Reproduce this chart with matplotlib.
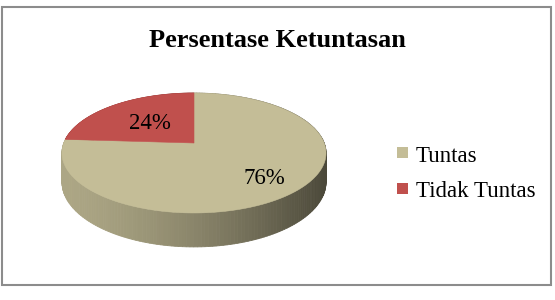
import numpy as np
import matplotlib
matplotlib.use("Agg")
import matplotlib.pyplot as plt
from matplotlib.patches import Polygon, Rectangle

# data
categories = ["Tuntas", "Tidak Tuntas"]
values = [76, 24]
labels = ["76%", "24%"]
colors = ["#C4BD97", "#C0504D"]
title = "Persentase Ketuntasan"

plt.rcParams["font.family"] = ["Liberation Serif", "DejaVu Serif"]

W, H = 555, 300
fig = plt.figure(figsize=(W / 100, H / 100), dpi=100)
ax = fig.add_axes([0, 0, 1, 1])
ax.set_xlim(0, W)
ax.set_ylim(H, 0)
ax.axis("off")

# pie geometry (pixel space, simple perspective of a tilted disc)
CX, CY = 194, 143
A, B, K = 130.2, 58.3, 0.1667
DEPTH = 28.3
label_r = [0.72, 0.53]


def proj(theta_deg, r=1.0, drop=0.0):
    t = np.radians(theta_deg)
    u, v = r * np.cos(t), -r * np.sin(t)
    w = 1 - K * v
    return CX + A * u / w, CY + B * v / w + drop / w


def shade(hex_col, x):
    # darken the side from left to right like the excel 3d pie
    c = np.array(matplotlib.colors.to_rgb(hex_col))
    t = np.clip((x - (CX - 132)) / 264, 0, 1)
    f = 0.88 - 0.50 * t ** 1.5
    return tuple(np.clip(c * f, 0, 1))


fracs = np.array(values) / np.sum(values)
starts = 90 - 360 * np.concatenate([[0], np.cumsum(fracs)[:-1]])
ends = starts - 360 * fracs

# side wall, back strips first
strips = []
for s, e, col in zip(starts, ends, colors):
    th = np.linspace(s, e, 200)
    for a0, a1 in zip(th[:-1], th[1:]):
        strips.append((-np.sin(np.radians((a0 + a1) / 2)), a0, a1, col))
strips.sort(key=lambda q: q[0])
for _, a0, a1, col in strips:
    p0, p1 = proj(a0), proj(a1)
    q1, q0 = proj(a1, drop=DEPTH), proj(a0, drop=DEPTH)
    fc = shade(col, (p0[0] + p1[0]) / 2)
    ax.add_patch(Polygon([p0, p1, q1, q0], closed=True, facecolor=fc,
                         edgecolor=fc, linewidth=0.6))

# top face
for s, e, col in zip(starts, ends, colors):
    th = np.linspace(s, e, 300)
    xs, ys = proj(th)
    pts = [(CX, CY)] + list(zip(xs, ys))
    ax.add_patch(Polygon(pts, closed=True, facecolor=col, edgecolor=col,
                         linewidth=0.4))

# data labels
for s, e, lab, rr in zip(starts, ends, labels, label_r):
    lx, ly = proj((s + e) / 2, r=rr)
    ax.text(lx, ly + 7.5, lab, ha="center", va="baseline", fontsize=16.5,
            color="black")

# title
ax.text(277, 47, title, ha="center", va="baseline", fontsize=19,
        fontweight="bold")

# legend
for i, (cat, col) in enumerate(zip(categories, colors)):
    yc = 152.5 + i * 35.5
    ax.add_patch(Rectangle((397, yc - 5.5), 11, 11, facecolor=col,
                           edgecolor="none"))
    ax.text(416, yc + 9, cat, ha="left", va="baseline", fontsize=16.5)

# chart frame
ax.add_patch(Rectangle((1.5, 6.5), 549, 278.5, facecolor="none",
                       edgecolor="#8C8C8C", linewidth=1.5))

fig.savefig("out.png", dpi=100)
